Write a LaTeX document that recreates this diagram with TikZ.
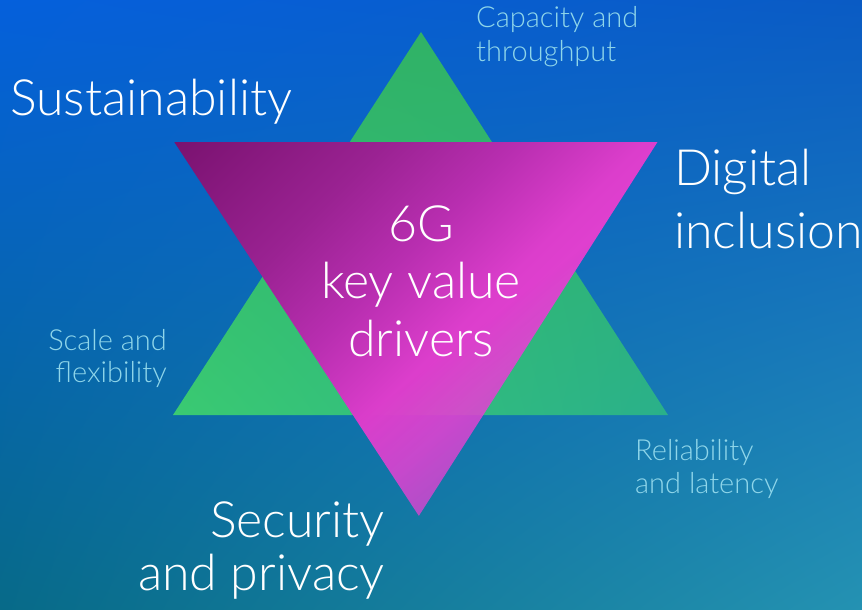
\documentclass[tikz,border=0pt]{standalone}
\usepackage{fontspec}
\setmainfont{Lato}[UprightFont={* Light}]
\usetikzlibrary{fadings,shadings}
\definecolor{bgUL}{HTML}{0560DC}
\definecolor{bgUR}{HTML}{0A5BC4}
\definecolor{bgLL}{HTML}{076A88}
\definecolor{bgLR}{HTML}{2492B2}
\definecolor{grT}{HTML}{30B266}
\definecolor{grBL}{HTML}{3ACA72}
\definecolor{grBR}{HTML}{2AB08A}
\definecolor{pkA}{HTML}{7A1270}
\definecolor{pkB}{HTML}{9A2292}
\definecolor{pkC}{HTML}{B82EB0}
\definecolor{pkD}{HTML}{DC3ECC}
\definecolor{pkE}{HTML}{E242D2}
\definecolor{pkF}{HTML}{D048D0}
\definecolor{capcol}{HTML}{8FD6EA}
\pgfdeclarehorizontalshading{pinkramp}{100bp}{color(0bp)=(pkA); color(14.6bp)=(pkA); color(32bp)=(pkB); color(43bp)=(pkC); color(53.5bp)=(pkD); color(60.5bp)=(pkE); color(85.4bp)=(pkF); color(100bp)=(pkF)}
\pgfdeclarehorizontalshading{pinkfadeshade}{100bp}{color(0bp)=(white); color(54bp)=(white); color(72bp)=(black!30); color(100bp)=(black!30)}
\pgfdeclarefading{pinkfade}{\pgfuseshading{pinkfadeshade}}
\tikzset{
  bigtext/.style={text=white, inner sep=0pt, font=\fontsize{50}{57}\selectfont},
  smalltext/.style={text=capcol, inner sep=0pt, font=\fontsize{29}{33}\selectfont},
}
\begin{document}
\begin{tikzpicture}[x=1pt,y=-1pt]
\useasboundingbox (0,0) rectangle (862,610);
% background
\shade[upper left=bgUL, upper right=bgUR, lower left=bgLL, lower right=bgLR] (0,0) rectangle (862,610);
% green triangle
\coordinate (gA) at (421,32);
\coordinate (gL) at (173,415);
\coordinate (gR) at (668,415);
\shade[upper left=grT, upper right=grT, lower left=grBL, lower right=grBR] (gA) -- (gL) -- (gR) -- cycle;
% pink triangle
\coordinate (pL) at (177,141);
\coordinate (pR) at (663,141);
\coordinate (pB) at (423,517);
\shade[shading=pinkramp, shading angle=-45, path fading=pinkfade, fading angle=-45] (pL) -- (pR) -- (pB) -- cycle;
% labels
\node[bigtext, anchor=base west] (sust) at (10,115) {Sustainability};
\node[bigtext, anchor=base west, align=left, font=\fontsize{50}{63}\selectfont] (digi) at (674,248) {Digital\\inclusion};
\node[bigtext, anchor=base, align=center, font=\fontsize{50}{57.5}\selectfont] (core) at (421,356) {6G\\key value\\drivers};
\node[bigtext, anchor=base east, align=right, font=\fontsize{50}{53}\selectfont] (secu) at (385,590) {Security\\and privacy};
\node[smalltext, anchor=base west, align=left, font=\fontsize{29}{34}\selectfont] (capa) at (476,62) {Capacity and\\throughput};
\node[smalltext, anchor=base east, align=right, font=\fontsize{29}{32}\selectfont] (scal) at (167,382) {Scale and\\flexibility};
\node[smalltext, anchor=base west, align=left] (reli) at (635,493) {Reliability\\and latency};
\end{tikzpicture}
\end{document}
